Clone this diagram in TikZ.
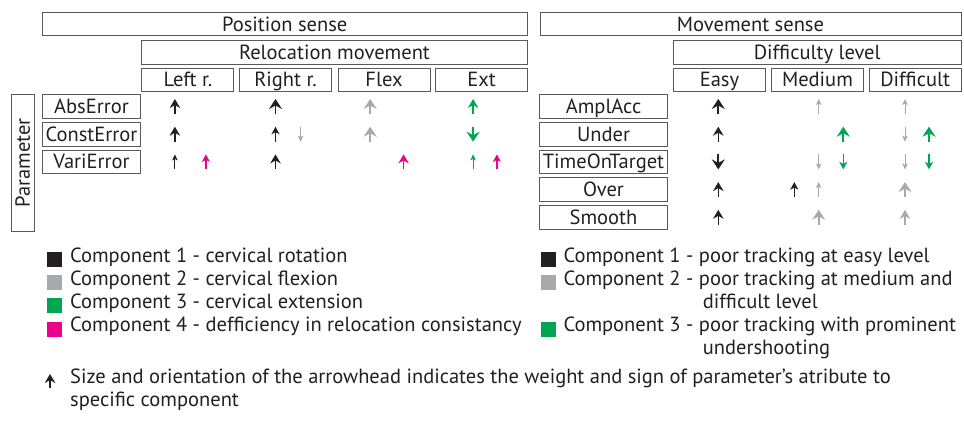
\documentclass[tikz,border=0pt]{standalone}
\usepackage{fontspec}
\setmainfont{PT Sans}
\usetikzlibrary{arrows.meta}
\definecolor{cblack}{HTML}{231F20}
\definecolor{cgray}{HTML}{A7A9AC}
\definecolor{cgreen}{HTML}{00A651}
\definecolor{cpink}{HTML}{EC008C}
\definecolor{boxc}{HTML}{58595B}
\newcommand\UpA[3]{\draw[#1] (#2,#3+7.5) -- (#2,#3-7.5);}
\newcommand\DnA[3]{\draw[#1] (#2,#3-7.5) -- (#2,#3+7.5);}
\begin{document}
\begin{tikzpicture}[x=1pt,y=-1pt,
  font=\fontsize{20.5}{24}\selectfont, text=cblack,
  hbox/.style={draw=boxc, line width=0.9pt, inner sep=0pt, minimum height=23.5pt,
    text height=14pt, text depth=0pt},
  legtext/.style={anchor=mid west, inner sep=0pt},
  legsq/.style={minimum size=15pt, inner sep=0pt},
  aT/.style={line width=1pt, -{Stealth[length=6pt,width=5.5pt,inset=1.5pt]}},
  aS/.style={line width=1.2pt, -{Stealth[length=7.5pt,width=8pt,inset=2pt]}},
  aM/.style={line width=1.5pt, -{Stealth[length=9pt,width=10.5pt,inset=3pt]}},
  aL/.style={line width=1.8pt, -{Stealth[length=10pt,width=13pt,inset=3.5pt]}}
]
\useasboundingbox (0,0) rectangle (964,423);
% ---------- Position sense ----------
\node[hbox, minimum width=485.5pt] (pos) at (284.75,24) {Position sense};
\node[hbox, minimum width=386pt] (reloc) at (334.5,52.2) {Relocation movement};
\node[hbox, minimum width=92pt] (leftr) at (187.9,79.7) {Left r.};
\node[hbox, minimum width=92pt] (rightr) at (285.5,79.7) {Right r.};
\node[hbox, minimum width=92pt] (flex) at (384,79.7) {Flex};
\node[hbox, minimum width=92pt] (ext) at (481.6,79.7) {Ext};
\node[hbox, minimum width=136.5pt, minimum height=23pt, rotate=90] (param) at (22.9,162.7) {Parameter};
\node[hbox, minimum width=97.5pt] (abs) at (91.45,106.5) {AbsError};
\node[hbox, minimum width=97.5pt] (const) at (91.45,134.2) {ConstError};
\node[hbox, minimum width=97.5pt] (vari) at (91.45,161.9) {VariError};
% arrows position sense
\UpA{aM,cblack}{174.9}{106.5}
\UpA{aL,cblack}{275.5}{106.5}
\UpA{aL,cgray}{370.2}{106.5}
\UpA{aM,cgreen}{473.1}{106.5}
\UpA{aM,cblack}{174.9}{134.2}
\UpA{aS,cblack}{275.5}{134.2}
\DnA{aT,cgray}{300.6}{134.2}
\UpA{aL,cgray}{370.2}{134.2}
\DnA{aL,cgreen}{473.1}{134.2}
\UpA{aT,cblack}{174.9}{161.9}
\UpA{aS,cpink}{205.9}{161.9}
\UpA{aM,cblack}{275.5}{161.9}
\UpA{aM,cpink}{403.6}{161.9}
\UpA{aT,cgreen}{473.1}{161.9}
\UpA{aS,cpink}{496.9}{161.9}
% ---------- Movement sense ----------
\node[hbox, minimum width=421pt] (mov) at (750.5,24) {Movement sense};
\node[hbox, minimum width=287.7pt] (diff) at (817.15,52.2) {Difficulty level};
\node[hbox, minimum width=92.4pt] (easy) at (719.5,79.7) {Easy};
\node[hbox, minimum width=92.4pt] (medium) at (817.5,79.7) {Medium};
\node[hbox, minimum width=91.7pt] (difficult) at (915.15,79.7) {Difficult};
\node[hbox, minimum width=128.4pt] (ampl) at (603.5,106.5) {AmplAcc};
\node[hbox, minimum width=128.4pt] (under) at (603.5,134.2) {Under};
\node[hbox, minimum width=128.4pt] (tot) at (603.5,161.9) {TimeOnTarget};
\node[hbox, minimum width=128.4pt] (over) at (603.5,189.6) {Over};
\node[hbox, minimum width=128.4pt] (smooth) at (603.5,217.3) {Smooth};
% arrows movement sense
\UpA{aL,cblack}{718.3}{106.5}
\UpA{aT,cgray}{818.7}{106.5}
\UpA{aT,cgray}{905}{106.5}
\UpA{aM,cblack}{718.3}{134.2}
\UpA{aL,cgreen}{843.3}{134.2}
\DnA{aT,cgray}{905}{134.2}
\UpA{aL,cgreen}{929}{134.2}
\DnA{aL,cblack}{718.3}{161.9}
\DnA{aT,cgray}{818.7}{161.9}
\DnA{aS,cgreen}{843.3}{161.9}
\DnA{aT,cgray}{905}{161.9}
\DnA{aS,cgreen}{929}{161.9}
\UpA{aM,cblack}{718.3}{189.6}
\UpA{aS,cblack}{794.3}{189.6}
\UpA{aT,cgray}{818.7}{189.6}
\UpA{aL,cgray}{905}{189.6}
\UpA{aM,cblack}{718.3}{217.3}
\UpA{aL,cgray}{818.7}{217.3}
\UpA{aM,cgray}{905}{217.3}
% ---------- Legend left ----------
\node[legsq, fill=cblack] (lsq1) at (54.6,259.5) {};
\node[legsq, fill=cgray] (lsq2) at (54.6,282.7) {};
\node[legsq, fill=cgreen] (lsq3) at (54.6,305.9) {};
\node[legsq, fill=cpink] (lsq4) at (54.6,329.1) {};
\node[legtext] (lt1) at (69.9,259.5) {Component 1 - cervical rotation};
\node[legtext] (lt2) at (69.9,282.7) {Component 2 - cervical flexion};
\node[legtext] (lt3) at (69.9,305.9) {Component 3 - cervical extension};
\node[legtext] (lt4) at (69.9,329.1) {Component 4 - defficiency in relocation consistancy};
% ---------- Legend right ----------
\node[legsq, fill=cblack] (rsq1) at (548.8,259.5) {};
\node[legsq, fill=cgray] (rsq2) at (548.8,282.7) {};
\node[legsq, fill=cgreen] (rsq3) at (548.8,329.1) {};
\node[legtext] (rt1) at (563.3,259.5) {Component 1 - poor tracking at easy level};
\node[legtext] (rt2) at (563.3,282.7) {Component 2 - poor tracking at medium and};
\node[legtext] (rt2b) at (702.7,305.9) {difficult level};
\node[legtext] (rt3) at (563.3,329.1) {Component 3 - poor tracking with prominent};
\node[legtext] (rt3b) at (702.7,352.3) {undershooting};
% ---------- bottom note ----------
\draw[aM,cblack] (50,388) -- (50,374);
\node[legtext] (note1) at (70,381) {Size and orientation of the arrowhead indicates the weight and sign of parameter’s atribute to};
\node[legtext] (note2) at (70,404) {specific component};
\end{tikzpicture}
\end{document}
